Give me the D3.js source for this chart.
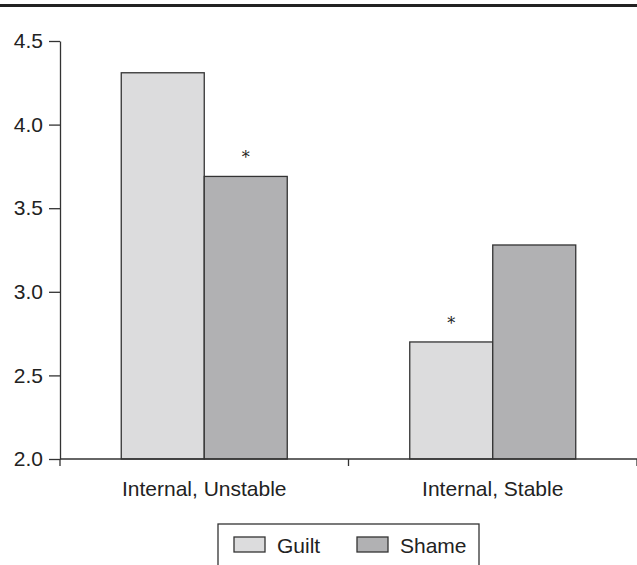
<!DOCTYPE html>
<html>
<head>
<meta charset="utf-8">
<script src="https://cdn.jsdelivr.net/npm/d3@7"></script>
<style>
  html, body { margin: 0; padding: 0; background: #fff; }
  svg { display: block; }
  text { font-family: "Liberation Sans", Arial, sans-serif; fill: #222; }
</style>
</head>
<body>
<svg id="chart" width="637" height="565"></svg>
<script>
const categories = ["Internal, Unstable", "Internal, Stable"];
const seriesNames = ["Guilt", "Shame"];
const guiltValues = [4.31, 2.70];
const shameValues = [3.69, 3.28];
const yTicks = [2.0, 2.5, 3.0, 3.5, 4.0, 4.5];
// significance markers: [category index, series index]
const starMarks = [[0, 1], [1, 0]];

(function () {
const colors = { Guilt: "#dcdcdd", Shame: "#b1b1b3" };
const values = { Guilt: guiltValues, Shame: shameValues };
const fs = "21px";

const svg = d3.select("#chart");
const W = 637;
const mLeft = 60, mRight = 637, mTop = 41, mBottom = 459;

// top rule
svg.append("rect").attr("x", 0).attr("y", 4).attr("width", W).attr("height", 3).attr("fill", "#222");

const y = d3.scaleLinear().domain([2, 4.5]).range([mBottom, mTop]);
const x0 = d3.scaleBand().domain(categories).range([mLeft, mRight]).paddingInner(0).paddingOuter(0);
const x1 = d3.scaleBand().domain(seriesNames).range([0, x0.bandwidth()]).paddingInner(0).paddingOuter(0.738);

// bars
const g = svg.append("g");
categories.forEach((c, ci) => {
  seriesNames.forEach(s => {
    const v = values[s][ci];
    g.append("rect")
      .attr("x", x0(c) + x1(s))
      .attr("y", y(v))
      .attr("width", x1.bandwidth())
      .attr("height", y(2) - y(v))
      .attr("fill", colors[s])
      .attr("stroke", "#333")
      .attr("stroke-width", 1.3);
  });
});

// asterisks
starMarks.forEach(([ci, si]) => {
  const c = categories[ci], s = seriesNames[si];
  const v = values[s][ci];
  svg.append("text")
    .attr("x", x0(c) + x1(s) + x1.bandwidth() / 2)
    .attr("y", y(v) - 13)
    .attr("text-anchor", "middle")
    .style("font-family", "'DejaVu Serif', serif")
    .style("font-size", "16px")
    .text("*");
});

// y axis
const yAxis = d3.axisLeft(y).tickValues(yTicks).tickFormat(d3.format(".1f")).tickSize(11).tickSizeOuter(0).tickPadding(6);
const ya = svg.append("g").attr("transform", `translate(${mLeft},0)`).call(yAxis);
ya.select(".domain").attr("stroke", "#333").attr("stroke-width", 1.3);
ya.selectAll(".tick line").attr("stroke", "#333").attr("stroke-width", 1.3);
ya.selectAll(".tick text").style("font-size", fs).style("font-family", "'Liberation Sans', Arial, sans-serif").attr("fill", "#222");

// x axis line
svg.append("line").attr("x1", mLeft).attr("x2", mRight).attr("y1", mBottom).attr("y2", mBottom)
  .attr("stroke", "#333").attr("stroke-width", 1.3);
// boundary ticks
categories.forEach(c => {
  const bx = x0(c) + x0.bandwidth();
  svg.append("line").attr("x1", bx).attr("x2", bx).attr("y1", mBottom).attr("y2", mBottom + 7)
    .attr("stroke", "#333").attr("stroke-width", 1.3);
});
svg.append("line").attr("x1", mLeft).attr("x2", mLeft).attr("y1", mBottom).attr("y2", mBottom + 7)
  .attr("stroke", "#333").attr("stroke-width", 1.3);

// category labels
categories.forEach(c => {
  svg.append("text")
    .attr("x", x0(c) + x0.bandwidth() / 2)
    .attr("y", 496)
    .attr("text-anchor", "middle")
    .style("font-size", fs)
    .text(c);
});

// legend
const lg = svg.append("g");
lg.append("rect").attr("x", 218).attr("y", 524).attr("width", 261).attr("height", 60)
  .attr("fill", "#fff").attr("stroke", "#333").attr("stroke-width", 1.3);
const legendX = [234, 357];
seriesNames.forEach((s, i) => {
  lg.append("rect").attr("x", legendX[i]).attr("y", 537).attr("width", 31).attr("height", 15)
    .attr("fill", colors[s]).attr("stroke", "#333").attr("stroke-width", 1.3);
  lg.append("text").attr("x", legendX[i] + 43).attr("y", 553)
    .style("font-size", fs).text(s);
});
})();
</script>
</body>
</html>
